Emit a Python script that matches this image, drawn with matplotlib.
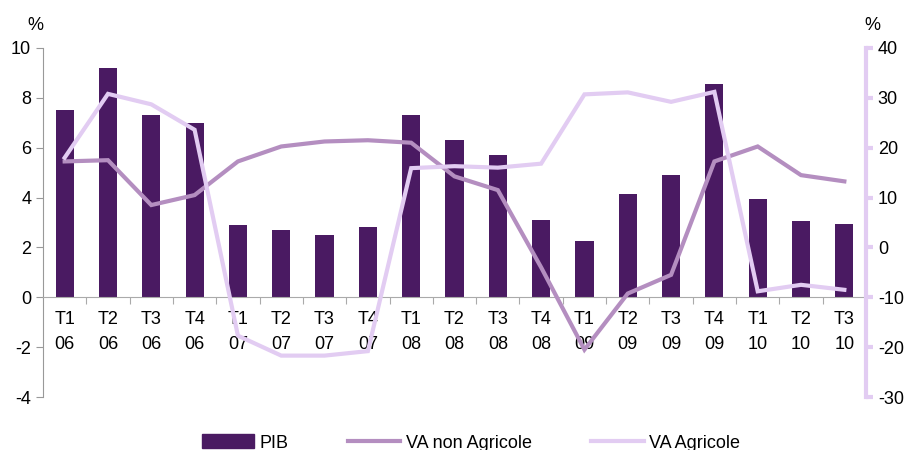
import numpy as np
import matplotlib
matplotlib.use("Agg")
import matplotlib.pyplot as plt
from matplotlib.patches import Patch
from matplotlib.lines import Line2D

plt.rcParams['font.family'] = ['Liberation Sans', 'DejaVu Sans']
plt.rcParams['axes.unicode_minus'] = False

quarters = ["T1", "T2", "T3", "T4"] * 4 + ["T1", "T2", "T3"]
years = ["06"] * 4 + ["07"] * 4 + ["08"] * 4 + ["09"] * 4 + ["10"] * 3
labels = [q + "\n" + y for q, y in zip(quarters, years)]

pib = [7.5, 9.2, 7.3, 7.0, 2.9, 2.7, 2.5, 2.8, 7.3, 6.3, 5.7, 3.1,
       2.25, 4.15, 4.9, 8.55, 3.95, 3.05, 2.95]
va_non_agri = [5.45, 5.5, 3.7, 4.1, 5.45, 6.05, 6.25, 6.3, 6.2, 4.85, 4.3, 1.2,
               -2.1, 0.15, 0.9, 5.45, 6.05, 4.9, 4.65]
va_agri = [18.0, 30.8, 28.7, 23.6, -17.7, -21.7, -21.7, -20.8, 15.9, 16.3, 16.0, 16.8,
           30.7, 31.1, 29.2, 31.2, -8.8, -7.5, -8.5]

c_pib = '#4A1A62'
c_non = '#B48EC0'
c_agri = '#E2CCF2'
fs = 13

fig = plt.figure(figsize=(9.09, 4.5), dpi=100)
ax = fig.add_axes([43 / 909, 1 - 397 / 450, (866 - 43) / 909, (397 - 48) / 450])
ax2 = ax.twinx()

x = np.arange(len(labels))
ax.bar(x, pib, width=0.42, color=c_pib, zorder=2)
ax.plot(x, va_non_agri, color=c_non, lw=3, zorder=3, solid_joinstyle='miter')
ax2.plot(x, va_agri, color=c_agri, lw=3, zorder=3, solid_joinstyle='miter')

ax.set_xlim(-0.5, len(labels) - 0.5)
ax.set_ylim(-4, 10)
ax.set_yticks(np.arange(-4, 11, 2))
ax2.set_ylim(-30, 40)
ax2.set_yticks(np.arange(-30, 41, 10))

# x axis at zero with ticks at category boundaries
ax.spines['bottom'].set_position(('data', 0))
ax.spines['bottom'].set_color('#AAAAAA')
ax.set_xticks(np.arange(0.5, len(labels) - 1, 1))
ax.set_xticklabels([])
ax.set_xticks(x, minor=True)
ax.set_xticklabels(labels, minor=True, fontsize=fs, linespacing=1.6)
ax.tick_params(axis='x', which='major', direction='out', length=5, color='#AAAAAA')
ax.tick_params(axis='x', which='minor', length=0, pad=10)

ax.spines['left'].set_color('#999999')
ax.tick_params(axis='y', direction='out', length=5, color='#999999', labelsize=fs)
for s in ['top', 'right']:
    ax.spines[s].set_visible(False)

for s in ['top', 'left', 'bottom']:
    ax2.spines[s].set_visible(False)
ax2.spines['right'].set_color(c_agri)
ax2.spines['right'].set_linewidth(3)
ax2.tick_params(axis='y', direction='out', length=5, width=3, color=c_agri, labelsize=fs)

fig.text(35 / 909, 1 - 25 / 450, "%", fontsize=fs, ha='center', va='center')
fig.text(872 / 909, 1 - 25 / 450, "%", fontsize=fs, ha='center', va='center')

handles = [Patch(color=c_pib),
           Line2D([0], [0], color=c_non, lw=3),
           Line2D([0], [0], color=c_agri, lw=3)]
fig.legend(handles, ["PIB", "VA non Agricole", "VA Agricole"], loc='center',
           bbox_to_anchor=(0.518, 1 - 443 / 450), ncol=3, frameon=False,
           fontsize=fs, handlelength=2.9, handleheight=0.8, columnspacing=3.3,
           handletextpad=0.3)

fig.savefig("out.png", dpi=100)
